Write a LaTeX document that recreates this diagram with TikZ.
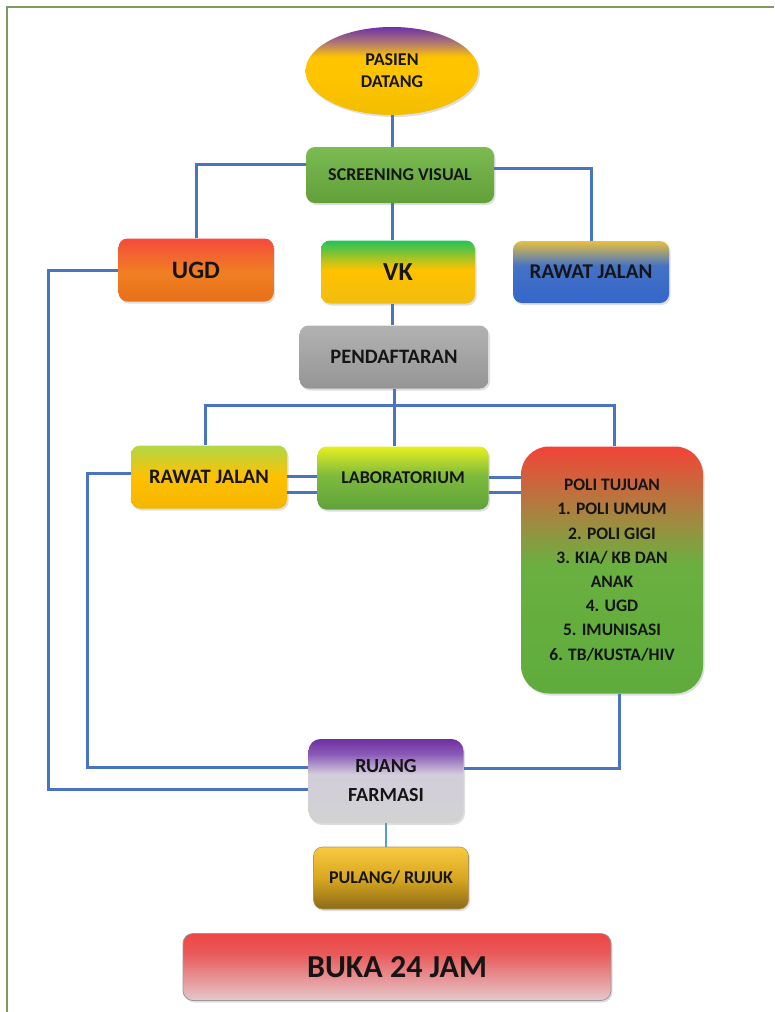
\documentclass[tikz,border=0pt]{standalone}
\usepackage{fontspec}
\setmainfont{Carlito}
\usetikzlibrary{shapes.geometric,shadows}
\definecolor{txt}{HTML}{151515}
\definecolor{lineblue}{HTML}{4A74C0}
\definecolor{lightblue}{HTML}{5B9BD5}
\definecolor{framecol}{HTML}{7F9A5A}
% ellipse
\definecolor{ellA}{HTML}{F2BE00}\definecolor{ellB}{HTML}{FFC400}\definecolor{ellC}{HTML}{B07A70}\definecolor{ellD}{HTML}{7030A8}
\pgfdeclareverticalshading{shEll}{100bp}{color(0bp)=(ellA); color(25bp)=(ellA); color(46bp)=(ellB); color(58bp)=(ellB); color(66bp)=(ellC); color(75bp)=(ellD); color(100bp)=(ellD)}
% screening
\definecolor{scrA}{HTML}{62A03A}\definecolor{scrB}{HTML}{7BBB52}
\pgfdeclareverticalshading{shScr}{100bp}{color(0bp)=(scrA); color(25bp)=(scrA); color(75bp)=(scrB); color(100bp)=(scrB)}
% ugd
\definecolor{ugdA}{HTML}{E8701A}\definecolor{ugdB}{HTML}{F07F22}\definecolor{ugdC}{HTML}{F54B3C}
\pgfdeclareverticalshading{shUgd}{100bp}{color(0bp)=(ugdA); color(25bp)=(ugdA); color(48bp)=(ugdB); color(75bp)=(ugdC); color(100bp)=(ugdC)}
% vk
\definecolor{vkA}{HTML}{F2BC10}\definecolor{vkB}{HTML}{FFC200}\definecolor{vkC}{HTML}{22C45A}
\pgfdeclareverticalshading{shVk}{100bp}{color(0bp)=(vkA); color(25bp)=(vkA); color(52bp)=(vkB); color(75bp)=(vkC); color(100bp)=(vkC)}
% rawat jalan top
\definecolor{rjA}{HTML}{3566CC}\definecolor{rjB}{HTML}{4472C4}\definecolor{rjC}{HTML}{E8C040}
\pgfdeclareverticalshading{shRj}{100bp}{color(0bp)=(rjA); color(25bp)=(rjA); color(55bp)=(rjB); color(75bp)=(rjC); color(100bp)=(rjC)}
% pendaftaran
\definecolor{pdA}{HTML}{959595}\definecolor{pdB}{HTML}{B2B2B2}
\pgfdeclareverticalshading{shPd}{100bp}{color(0bp)=(pdA); color(25bp)=(pdA); color(75bp)=(pdB); color(100bp)=(pdB)}
% rawat jalan 2
\definecolor{rkA}{HTML}{F2B600}\definecolor{rkB}{HTML}{FFC000}\definecolor{rkC}{HTML}{B2D848}
\pgfdeclareverticalshading{shRk}{100bp}{color(0bp)=(rkA); color(25bp)=(rkA); color(50bp)=(rkB); color(75bp)=(rkC); color(100bp)=(rkC)}
% laboratorium
\definecolor{lbA}{HTML}{60A23A}\definecolor{lbB}{HTML}{7EBA3E}\definecolor{lbC}{HTML}{E6F020}
\pgfdeclareverticalshading{shLb}{100bp}{color(0bp)=(lbA); color(25bp)=(lbA); color(52bp)=(lbB); color(75bp)=(lbC); color(100bp)=(lbC)}
% poli
\definecolor{plA}{HTML}{5EAC3C}\definecolor{plB}{HTML}{6AB040}\definecolor{plC}{HTML}{A08A40}\definecolor{plD}{HTML}{F24438}
\pgfdeclareverticalshading{shPl}{100bp}{color(0bp)=(plA); color(25bp)=(plA); color(51bp)=(plB); color(60bp)=(plC); color(75bp)=(plD); color(100bp)=(plD)}
% farmasi
\definecolor{fmA}{HTML}{D2D2D2}\definecolor{fmB}{HTML}{D2CEDA}\definecolor{fmC}{HTML}{8A5AB8}\definecolor{fmD}{HTML}{7030A0}
\pgfdeclareverticalshading{shFm}{100bp}{color(0bp)=(fmA); color(25bp)=(fmA); color(54bp)=(fmB); color(66bp)=(fmC); color(75bp)=(fmD); color(100bp)=(fmD)}
% pulang
\definecolor{puA}{HTML}{8C6A18}\definecolor{puB}{HTML}{D8A820}\definecolor{puC}{HTML}{F8CA40}
\pgfdeclareverticalshading{shPu}{100bp}{color(0bp)=(puA); color(25bp)=(puA); color(50bp)=(puB); color(75bp)=(puC); color(100bp)=(puC)}
% buka
\definecolor{bkA}{HTML}{E6C8CC}\definecolor{bkB}{HTML}{E85A5A}\definecolor{bkC}{HTML}{EF4545}
\pgfdeclareverticalshading{shBk}{100bp}{color(0bp)=(bkA); color(25bp)=(bkA); color(60bp)=(bkB); color(75bp)=(bkC); color(100bp)=(bkC)}
\begin{document}
\begin{tikzpicture}[x=1pt,y=-1pt,
  box/.style={rectangle, rounded corners=9pt, inner sep=0pt, align=center, text=txt,
    drop shadow={opacity=0.25, shadow xshift=1.5pt, shadow yshift=-2pt}},
  conn/.style={draw=lineblue, line width=3pt},
  fs/.style={font=\fontsize{#1}{#1}\selectfont\bfseries}]
\useasboundingbox (0,0) rectangle (774,1012);
\draw[framecol, line width=1.2pt] (7,1012) -- (7,7) -- (774,7);

\node[ellipse, inner sep=0pt, minimum width=173pt, minimum height=88pt, shading=shEll, align=center, text=txt,
  drop shadow={opacity=0.25, shadow xshift=1.5pt, shadow yshift=-2pt},
  font=\fontsize{18}{22}\selectfont\bfseries] (ell) at (392,71) {PASIEN\\DATANG};
\node[box, shading=shScr, minimum width=188pt, minimum height=56pt, fs=18] (scr) at (400,175) {SCREENING VISUAL};
\node[box, shading=shUgd, minimum width=155pt, minimum height=63pt, fs=25] (ugd) at (196,270) {UGD};
\node[box, shading=shVk, minimum width=154pt, minimum height=63pt, fs=26] (vk) at (398,272) {VK};
\node[box, shading=shRj, minimum width=156pt, minimum height=62pt, fs=21] (rj) at (591,272) {RAWAT JALAN};
\node[box, shading=shPd, minimum width=189pt, minimum height=63pt, fs=20.5] (pend) at (394,357) {PENDAFTARAN};
\node[box, shading=shRk, minimum width=156pt, minimum height=63pt, fs=20.5] (rj2) at (209,477) {RAWAT JALAN};
\node[box, shading=shLb, minimum width=171pt, minimum height=63pt, fs=18] (lab) at (403,478) {LABORATORIUM};
\node[box, rounded corners=28pt, shading=shPl, minimum width=182pt, minimum height=247pt,
  font=\fontsize{17.5}{24.2}\selectfont\bfseries] (poli) at (612,570)
  {POLI TUJUAN\\1. POLI UMUM\\2. POLI GIGI\\3. KIA/ KB DAN\\ANAK\\4. UGD\\5. IMUNISASI\\6. TB/KUSTA/HIV};
\node[box, rounded corners=12pt, shading=shFm, minimum width=155pt, minimum height=84pt,
  font=\fontsize{20}{29}\selectfont\bfseries] (farm) at (386,781) {RUANG\\FARMASI};
\node[box, shading=shPu, draw=puA!70, line width=0.6pt, minimum width=155pt, minimum height=62pt, fs=18] (pul) at (391,878) {PULANG/ RUJUK};
\node[box, rounded corners=10pt, shading=shBk, draw=gray!80, line width=0.8pt, minimum width=428pt, minimum height=67pt, fs=32] (buka) at (397,967) {BUKA 24 JAM};

% connectors
\draw[conn] (ell.south) -- (ell.south |- scr.north);
\draw[conn] ([yshift=11pt]scr.west) -| (ugd.north);
\draw[conn] ([yshift=7pt]scr.east) -| (rj.north);
\draw[conn] (ell.south |- scr.south) -- (ell.south |- vk.north);
\draw[conn] (ell.south |- vk.south) -- (ell.south |- pend.north);
\coordinate (bus) at (400,405);
\draw[conn] (pend.south) -- (pend.south |- lab.north);
\draw[conn] ([xshift=-4pt]rj2.north) |- (bus) -| ([xshift=2pt]poli.north);
\draw[conn] ([yshift=1pt]rj2.east) -- ([yshift=1pt]rj2.east -| lab.west);
\draw[conn] ([yshift=-15pt]rj2.east) -- ([yshift=-15pt]rj2.east -| lab.west);
\draw[conn] ([yshift=1pt]lab.east) -- ([yshift=1pt]lab.east -| poli.west);
\draw[conn] ([yshift=-14pt]lab.east) -- ([yshift=-14pt]lab.east -| poli.west);
\draw[conn] ([yshift=4pt]rj2.west) -- ++(-43,0) |- ([yshift=14pt]farm.west);
\draw[conn] (ugd.west) -- ++(-70,0) |- ([yshift=-8pt]farm.west);
\draw[conn] ([xshift=7pt]poli.south) |- ([yshift=13pt]farm.east);
\draw[draw=lightblue, line width=2.6pt] (farm.south) -- (farm.south |- pul.north);
\end{tikzpicture}
\end{document}
